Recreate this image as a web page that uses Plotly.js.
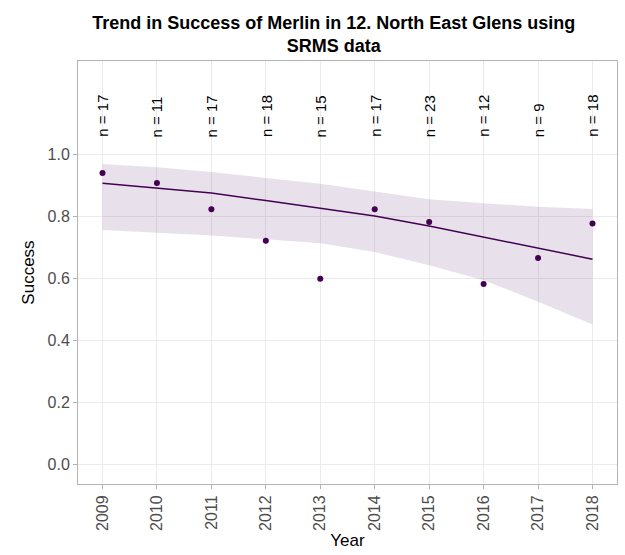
<!DOCTYPE html>
<html>
<head>
<meta charset="utf-8">
<script src="https://cdn.plot.ly/plotly-3.0.1.min.js"></script>
<style>html,body{margin:0;padding:0;background:#fff;}#chart{width:625px;height:555px;}</style>
</head>
<body>
<div id="chart"></div>
<script>
const years = [2009, 2010, 2011, 2012, 2013, 2014, 2015, 2016, 2017, 2018];
const success = [0.941, 0.909, 0.824, 0.722, 0.600, 0.824, 0.783, 0.583, 0.667, 0.778];
const nLabels = ["n = 17", "n = 11", "n = 17", "n = 18", "n = 15", "n = 17", "n = 23", "n = 12", "n = 9", "n = 18"];
const trendFit = [0.908, 0.892, 0.876, 0.852, 0.827, 0.802, 0.770, 0.735, 0.700, 0.663];
const trendUpper = [0.970, 0.959, 0.944, 0.924, 0.906, 0.881, 0.856, 0.843, 0.832, 0.825];
const trendLower = [0.757, 0.749, 0.739, 0.727, 0.714, 0.686, 0.643, 0.595, 0.526, 0.452];
const labelY = 1.05;

const purple = '#440154';

const traces = [
  {x: years, y: trendLower, mode: 'lines', line: {width: 0, color: 'rgba(0,0,0,0)'}, hoverinfo: 'skip', showlegend: false},
  {x: years, y: trendUpper, mode: 'lines', fill: 'tonexty', fillcolor: 'rgba(68,1,84,0.12)', line: {width: 0, color: 'rgba(0,0,0,0)'}, hoverinfo: 'skip', showlegend: false},
  {x: years, y: trendFit, mode: 'lines', line: {color: purple, width: 1.5}, showlegend: false},
  {x: years, y: success, mode: 'markers', marker: {color: purple, size: 6}, showlegend: false}
];

const annotations = years.map((yr, i) => ({
  x: yr, y: labelY, xref: 'x', yref: 'y', text: nLabels[i], showarrow: false,
  textangle: -90, xanchor: 'center', yanchor: 'bottom',
  font: {family: 'Liberation Sans, Arial, sans-serif', size: 15, color: '#000'}
}));

const layout = {
  width: 625, height: 555,
  margin: {l: 78, r: 8, t: 61, b: 71},
  paper_bgcolor: '#fff', plot_bgcolor: '#fff',
  font: {family: 'Liberation Sans, Arial, sans-serif'},
  title: {
    text: '<b>Trend in Success of Merlin in 12. North East Glens using<br>SRMS data</b>',
    font: {size: 18, color: '#000'},
    x: 0.534, xref: 'container', xanchor: 'center',
    y: 0.948, yref: 'container', yanchor: 'top'
  },
  xaxis: {
    range: [2008.55, 2018.45],
    tickvals: years, ticktext: years.map(String),
    tickangle: -90,
    tickfont: {size: 16, color: '#4D4D4D'},
    ticks: 'outside', ticklen: 4, tickcolor: '#B3B3B3',
    showgrid: true, gridcolor: '#EBEBEB', gridwidth: 1,
    zeroline: false,
    showline: true, linecolor: '#B3B3B3', linewidth: 1, mirror: true,
    title: {text: 'Year', font: {size: 17, color: '#000'}, standoff: 4}
  },
  yaxis: {
    range: [-0.062, 1.302],
    tickvals: [0, 0.2, 0.4, 0.6, 0.8, 1.0],
    ticktext: ['0.0', '0.2', '0.4', '0.6', '0.8', '1.0'],
    tickfont: {size: 16, color: '#4D4D4D'},
    ticks: 'outside', ticklen: 4, tickcolor: '#B3B3B3',
    showgrid: true, gridcolor: '#EBEBEB', gridwidth: 1,
    zeroline: false,
    showline: true, linecolor: '#B3B3B3', linewidth: 1, mirror: true,
    title: {text: 'Success', font: {size: 17, color: '#000'}, standoff: 8}
  },
  annotations: annotations
};

Plotly.newPlot('chart', traces, layout, {displayModeBar: false, staticPlot: true});
</script>
</body>
</html>
